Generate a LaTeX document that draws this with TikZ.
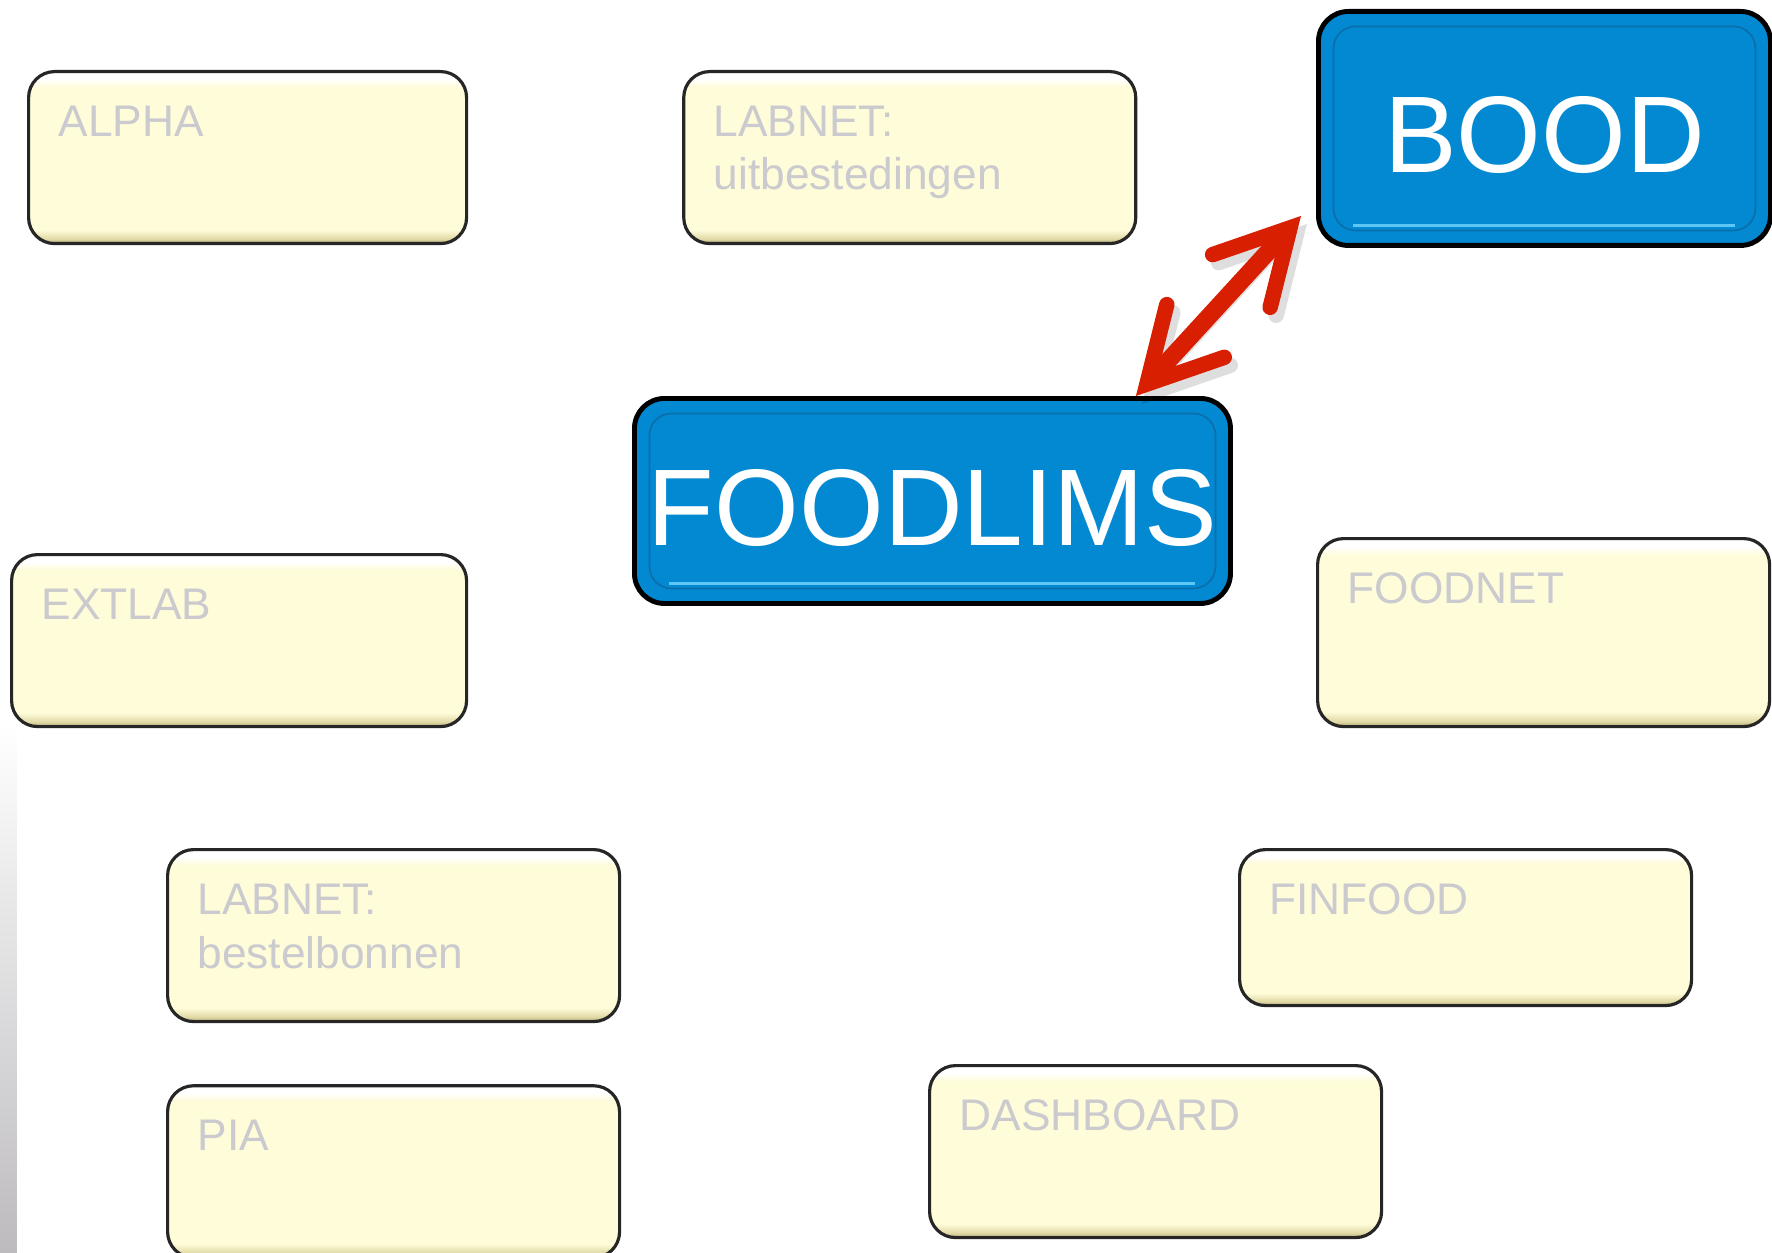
\documentclass[tikz,border=0pt]{standalone}
\usepackage{fontspec}
\setmainfont{Liberation Sans}
\usetikzlibrary{positioning, arrows.meta}

\definecolor{creme}{HTML}{FEFCD9}
\definecolor{cremedark}{HTML}{A89E70}
\definecolor{cremeshade}{HTML}{E0D8A4}
\definecolor{labgray}{HTML}{CACACF}
\definecolor{limsblue}{HTML}{0389D2}
\definecolor{rimblue}{HTML}{0A6FAA}
\definecolor{rimlight}{HTML}{5CC6F5}
\definecolor{arrowred}{HTML}{D81F02}
\definecolor{stripgray}{HTML}{BDBBBE}

\pgfdeclareverticalshading{cremebevel}{100bp}{color(0bp)=(cremedark); color(25bp)=(cremedark); color(26.3bp)=(cremeshade); color(29bp)=(creme); color(70.5bp)=(creme); color(72.8bp)=(white); color(75bp)=(white); color(100bp)=(white)}

\tikzset{
  sys/.style={shade, shading=cremebevel, draw=black!85, line width=0.9pt,
    rounded corners=0.26cm, anchor=north west, inner xsep=0.3cm, inner ysep=0pt,
    text width=3.92cm, align=left, text height=0.65cm, text depth=1.07cm,
    text=labgray, font=\fontsize{12.6}{15.2}\selectfont},
  main/.style={fill=limsblue, draw=black, line width=1.4pt, rounded corners=0.3cm,
    anchor=north west, inner sep=0pt, text=white, text height=0.9cm,
    font=\fontsize{31}{37}\selectfont,
    path picture={
      \draw[rimblue, line width=0.5pt, rounded corners=0.22cm]
        ([shift={(0.15,-0.15)}]path picture bounding box.north west) rectangle
        ([shift={(-0.15,0.15)}]path picture bounding box.south east);
      \draw[rimlight, line width=0.8pt]
        ([shift={(0.35,0.2)}]path picture bounding box.south west) --
        ([shift={(-0.35,0.2)}]path picture bounding box.south east);
    }},
  barb/.tip={Straight Barb[length=7.2mm,width=7.8mm,line width=4.4pt,line cap=round,line join=miter]},
  link/.style={draw=arrowred, line width=5pt, line cap=round, barb-barb},
}

\begin{document}
\begin{tikzpicture}
\useasboundingbox (0,0) rectangle (17.72,-12.53);
\shade[top color=white, bottom color=stripgray] (0,-7.23) rectangle (0.17,-12.53);

\node[sys, text width=3.78cm] at (0.27,-0.70) (alpha) {ALPHA};
\node[sys, right=2.14cm of alpha] (labu) {LABNET:\\uitbestedingen};
\node[sys, text width=3.95cm] at (0.10,-5.53) (extlab) {EXTLAB};
\node[sys] at (1.66,-8.48) (labb) {LABNET:\\bestelbonnen};
\node[sys, below=0.61cm of labb] (pia) {PIA};

\node[sys, text depth=1.23cm] at (13.16,-5.37) (foodnet) {FOODNET};
\node[sys, text depth=0.91cm] at (12.38,-8.48) (finfood) {FINFOOD};
\node[sys] at (9.28,-10.64) (dash) {DASHBOARD};

\node[main, minimum width=4.52cm, minimum height=2.34cm] at (13.16,-0.09) (bood) {BOOD};
\node[main, minimum width=5.96cm, minimum height=2.05cm] at (6.32,-3.96) (lims) {FOODLIMS};

\draw[link, preaction={draw=black, opacity=0.13, transform canvas={shift={(0.06,-0.08)}}}]
  ([xshift=-0.97cm]lims.north east) -- ([shift={(-0.15,0.32)}]bood.south west);
\end{tikzpicture}
\end{document}
